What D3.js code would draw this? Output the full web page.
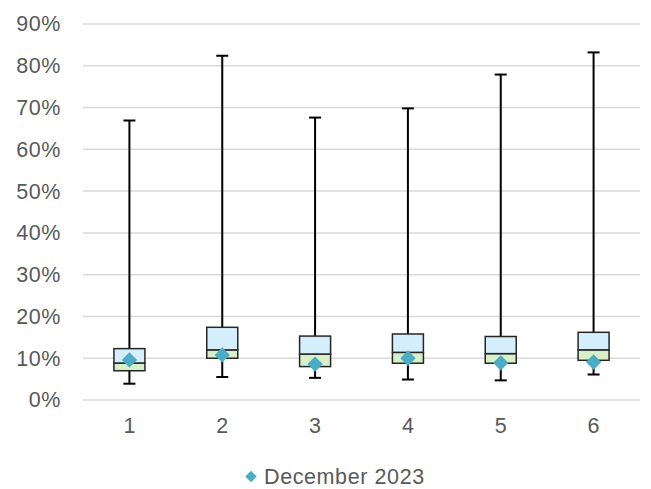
<!DOCTYPE html>
<html>
<head>
<meta charset="utf-8">
<script src="https://cdn.jsdelivr.net/npm/d3@7"></script>
<style>
  body { margin: 0; background: #fff; }
  svg { font-family: "Liberation Sans", Arial, sans-serif; }
</style>
</head>
<body>
<svg width="651" height="489"></svg>
<script>
var categories = ["1", "2", "3", "4", "5", "6"]
var minVals = [0.039, 0.055, 0.053, 0.049, 0.047, 0.061]
var q1Vals = [0.070, 0.100, 0.080, 0.088, 0.088, 0.095]
var medVals = [0.0885, 0.120, 0.110, 0.114, 0.111, 0.120]
var q3Vals = [0.123, 0.174, 0.153, 0.158, 0.152, 0.162]
var maxVals = [0.669, 0.824, 0.676, 0.698, 0.779, 0.832]
var dec2023 = [0.096, 0.108, 0.086, 0.100, 0.089, 0.091]
var yTicks = [0, 0.1, 0.2, 0.3, 0.4, 0.5, 0.6, 0.7, 0.8, 0.9]

var svg = d3.select("svg")
var margin = {left: 83, right: 11, top: 24, bottom: 89}
var width = 651 - margin.left - margin.right
var height = 489 - margin.top - margin.bottom

var x = d3.scaleBand().domain(categories).range([margin.left, margin.left + width])
var y = d3.scaleLinear().domain([0, 0.9]).range([margin.top + height, margin.top])

var fontSize = "21.5px"

// gridlines
svg.append("g").selectAll("line")
    .data(yTicks)
    .enter().append("line")
    .attr("x1", margin.left).attr("x2", margin.left + width)
    .attr("y1", function (d) { return y(d) }).attr("y2", function (d) { return y(d) })
    .attr("stroke", "#d9d9d9").attr("stroke-width", 1.5)

var yAxis = svg.append("g")
    .attr("transform", "translate(" + margin.left + ",0)")
    .call(d3.axisLeft(y).tickValues(yTicks).tickFormat(d3.format(".0%")).tickSize(0).tickPadding(22))
yAxis.select(".domain").remove()
yAxis.selectAll("text").attr("fill", "#595959").style("font-size", fontSize).style("letter-spacing", "0.6px")

var xAxis = svg.append("g")
    .attr("transform", "translate(0," + (margin.top + height) + ")")
    .call(d3.axisBottom(x).tickSize(0).tickPadding(18))
xAxis.select(".domain").remove()
xAxis.selectAll("text").attr("fill", "#595959").style("font-size", fontSize)

var boxW = 31
var capW = 12
var idx = d3.range(categories.length)

var g = svg.append("g")
function cx(i) { return x(categories[i]) + x.bandwidth() / 2 }

// whiskers
g.selectAll(".whisk").data(idx).enter().append("line")
    .attr("x1", cx).attr("x2", cx)
    .attr("y1", function (i) { return y(maxVals[i]) })
    .attr("y2", function (i) { return y(minVals[i]) })
    .attr("stroke", "#000").attr("stroke-width", 2)
g.selectAll(".capTop").data(idx).enter().append("line")
    .attr("x1", function (i) { return cx(i) - capW / 2 }).attr("x2", function (i) { return cx(i) + capW / 2 })
    .attr("y1", function (i) { return y(maxVals[i]) }).attr("y2", function (i) { return y(maxVals[i]) })
    .attr("stroke", "#000").attr("stroke-width", 2)
g.selectAll(".capBot").data(idx).enter().append("line")
    .attr("x1", function (i) { return cx(i) - capW / 2 }).attr("x2", function (i) { return cx(i) + capW / 2 })
    .attr("y1", function (i) { return y(minVals[i]) }).attr("y2", function (i) { return y(minVals[i]) })
    .attr("stroke", "#000").attr("stroke-width", 2)

// lower box (q1 - median)
g.selectAll(".low").data(idx).enter().append("rect")
    .attr("x", function (i) { return cx(i) - boxW / 2 })
    .attr("width", boxW)
    .attr("y", function (i) { return y(medVals[i]) })
    .attr("height", function (i) { return y(q1Vals[i]) - y(medVals[i]) })
    .attr("fill", "#d8f0c8").attr("stroke", "#262626").attr("stroke-width", 1.5)

// upper box (median - q3)
g.selectAll(".up").data(idx).enter().append("rect")
    .attr("x", function (i) { return cx(i) - boxW / 2 })
    .attr("width", boxW)
    .attr("y", function (i) { return y(q3Vals[i]) })
    .attr("height", function (i) { return y(medVals[i]) - y(q3Vals[i]) })
    .attr("fill", "#d4eefc").attr("stroke", "#262626").attr("stroke-width", 1.5)

// December 2023 markers
var diamond = d3.symbol().type(d3.symbolDiamond2).size(150)
g.selectAll(".dec").data(idx).enter().append("path")
    .attr("d", diamond)
    .attr("transform", function (i) { return "translate(" + cx(i) + "," + y(dec2023[i]) + ")" })
    .attr("fill", "#4bacc6")

// legend
var leg = svg.append("g").attr("transform", "translate(251,484)")
leg.append("path")
    .attr("d", d3.symbol().type(d3.symbolDiamond2).size(85))
    .attr("transform", "translate(0,-7.5)")
    .attr("fill", "#4bacc6")
leg.append("text")
    .attr("x", 13).attr("y", 0)
    .attr("fill", "#595959")
    .style("font-size", fontSize)
    .style("letter-spacing", "0.6px")
    .text("December 2023")
</script>
</body>
</html>
